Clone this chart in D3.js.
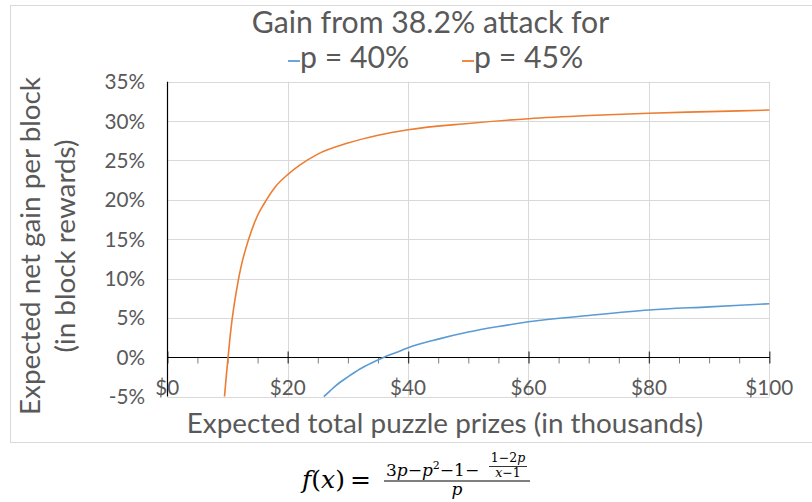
<!DOCTYPE html>
<html><head><meta charset="utf-8">
<script src="https://cdn.jsdelivr.net/npm/d3@7/dist/d3.min.js"></script>
<style>
html,body{margin:0;padding:0;background:#fff;}
svg text{font-family:Lato,"Open Sans",sans-serif;fill:#595959;}
</style></head>
<body>
<svg id="c" width="812" height="502"></svg>
<script>
// ---- data ----
const seriesNames = ["p = 40%", "p = 45%"];
const prizes40 = [26, 27, 28, 30, 32, 34, 36, 38, 40, 45, 50, 55, 60, 70, 80, 90, 100];
const gain40   = [-5.0, -4.3, -3.6, -2.5, -1.5, -0.7, 0.0, 0.6, 1.2, 2.3, 3.2, 3.9, 4.5, 5.3, 6.0, 6.4, 6.8];
const prizes45 = [9.5, 9.8, 10.1, 10.5, 11, 11.5, 12, 12.5, 13, 14, 15, 16, 18, 20, 22, 25, 30, 35, 40, 50, 60, 70, 80, 90, 100];
const gain45   = [-5.0, -2.4, 0.0, 3.1, 6.1, 8.5, 10.6, 12.3, 13.7, 16.1, 18.0, 19.4, 21.7, 23.2, 24.4, 25.8, 27.2, 28.2, 28.9, 29.7, 30.3, 30.7, 31.0, 31.2, 31.4];
const yTicks = [-5, 0, 5, 10, 15, 20, 25, 30, 35];
const xTicks = [0, 20, 40, 60, 80, 100];
const xMinorTicks = [0,5,10,15,20,25,30,35,40,45,50,55,60,65,70,75,80,85,90,95,100];
const titleText = "Gain from 38.2% attack for";
const xTitle = "Expected total puzzle prizes (in thousands)";
const yTitle1 = "Expected net gain per block";
const yTitle2 = "(in block rewards)";

// ---- layout ----
const colors = ["#5b9bd5", "#ed7d31"];
const svg = d3.select("#c");
const L = 167.3, R = 769.3, T = 81.7, B = 396.6;
const x = d3.scaleLinear().domain([0, 100]).range([L, R]);
const y = d3.scaleLinear().domain([-5, 35]).range([B, T]);

function fit(sel, w){
  const n = sel.node();
  const fs = parseFloat(sel.attr("font-size"));
  const cur = n.getComputedTextLength();
  sel.attr("font-size", fs * w / cur);
  return fs * w / cur;
}

// frame
svg.append("rect").attr("x", 10.5).attr("y", 5.5).attr("width", 820).attr("height", 437)
  .attr("fill", "#fff").attr("stroke", "#d9d9d9").attr("stroke-width", 1);

// gridlines
svg.append("g").selectAll("line").data(yTicks).join("line")
  .attr("x1", L).attr("x2", R).attr("y1", d => Math.round(y(d)) + 0.5).attr("y2", d => Math.round(y(d)) + 0.5)
  .attr("stroke", "#d9d9d9").attr("stroke-width", 1);
svg.append("g").selectAll("line").data(xTicks.slice(1)).join("line")
  .attr("x1", d => Math.round(x(d)) + 0.5).attr("x2", d => Math.round(x(d)) + 0.5).attr("y1", T).attr("y2", B)
  .attr("stroke", "#d9d9d9").attr("stroke-width", 1);

// x axis at 0 with ticks
const y0 = Math.round(y(0)) + 0.5;
const xAxis = d3.axisBottom(x).tickValues(xMinorTicks).tickSize(6).tickFormat("");
const gx = svg.append("g").attr("transform", `translate(0,${y0})`).call(xAxis);
gx.select(".domain").remove();
gx.selectAll(".tick line").attr("stroke", "#7f7f7f").attr("stroke-width", 1);
gx.selectAll(".tick").filter(d => d % 20 === 0).select("line")
  .attr("y1", -6).attr("y2", 6).attr("stroke", "#404040").attr("stroke-width", 1.3);
svg.append("line").attr("x1", L).attr("x2", R + 0.5).attr("y1", y0).attr("y2", y0)
  .attr("stroke", "#000").attr("stroke-width", 1.2);
// y axis line
svg.append("line").attr("x1", Math.round(L) + 0.5).attr("x2", Math.round(L) + 0.5).attr("y1", T).attr("y2", B)
  .attr("stroke", "#000").attr("stroke-width", 1.2);

// x tick labels
const xl = svg.append("g").selectAll("text").data(xTicks).join("text")
  .attr("x", d => x(d)).attr("y", 395).attr("text-anchor", "middle")
  .attr("font-size", 20).text(d => "$" + d);
const tickFs = fit(d3.select(xl.nodes()[5]), 48);
xl.attr("font-size", tickFs);

// y tick labels
svg.append("g").selectAll("text").data(yTicks).join("text")
  .attr("x", 145).attr("y", d => y(d)).attr("dy", "0.36em").attr("text-anchor", "end")
  .attr("font-size", tickFs).text(d => d + "%");

// lines
const line = d3.line().x(d => x(d[0])).y(d => y(d[1])).curve(d3.curveMonotoneX);
const data40 = prizes40.map((p, i) => [p, gain40[i]]);
const data45 = prizes45.map((p, i) => [p, gain45[i]]);
svg.append("path").attr("d", line(data40)).attr("fill", "none").attr("stroke", colors[0]).attr("stroke-width", 1.6);
svg.append("path").attr("d", line(data45)).attr("fill", "none").attr("stroke", colors[1]).attr("stroke-width", 1.6);

// title
const t = svg.append("text").attr("x", 430.5).attr("y", 33).attr("text-anchor", "middle")
  .attr("font-size", 26).text(titleText);
const titleFs = fit(t, 357.6);

// legend
const legX = [288, 462];
seriesNames.forEach((n, i) => {
  svg.append("line").attr("x1", legX[i]).attr("x2", legX[i] + 12).attr("y1", 61).attr("y2", 61)
    .attr("stroke", colors[i]).attr("stroke-width", 1.8);
  svg.append("text").attr("x", legX[i] + 12).attr("y", 68).attr("font-size", titleFs).text(n);
});

// axis titles
const xt = svg.append("text").attr("x", 445).attr("y", 433).attr("text-anchor", "middle")
  .attr("font-size", 24).text(xTitle);
const axFs = fit(xt, 516.6);
svg.append("text").attr("transform", "translate(40,246) rotate(-90)").attr("text-anchor", "middle")
  .attr("font-size", axFs).text(yTitle1);
svg.append("text").attr("transform", "translate(75,246) rotate(-90)").attr("text-anchor", "middle")
  .attr("font-size", axFs).text(yTitle2);

// formula below chart
const fm = svg.append("g");
const serif = "'DejaVu Serif','Liberation Serif',serif";
function tx(xp, yp, fs, anchor, parts){
  const el = fm.append("text").attr("x", xp).attr("y", yp).attr("font-size", fs)
    .attr("text-anchor", anchor).style("fill", "#000").style("font-family", serif);
  parts.forEach(p => {
    const s = el.append("tspan").text(p[0]).style("fill", "#000");
    if (p[1]) s.style("font-style", "italic");
    if (p[2]) s.attr("font-size", p[2]);
    if (p[3]) s.attr("dy", p[3]);
  });
  return el;
}
tx(302, 488, 25, "start", [["f", 1], ["(", 0], ["x", 1], [")", 0], ["\u2009=", 0]]);
fm.append("line").attr("x1", 384).attr("x2", 530).attr("y1", 481).attr("y2", 481).attr("stroke", "#000").attr("stroke-width", 1);
tx(386, 476, 17, "start", [["3", 0], ["p", 1], ["\u2212", 0], ["p", 1], ["2", 0, 11, -7], ["\u2212", 0, 17, 7], ["1", 0], ["\u2212", 0]]);
tx(508, 462, 12.5, "middle", [["1\u22122", 0], ["p", 1]]);
fm.append("line").attr("x1", 489).attr("x2", 527).attr("y1", 466.5).attr("y2", 466.5).attr("stroke", "#000").attr("stroke-width", 0.8);
tx(508, 476.5, 12.5, "middle", [["x", 1], ["\u22121", 0]]);
tx(457, 495, 17, "middle", [["p", 1]]);
</script>
</body></html>
